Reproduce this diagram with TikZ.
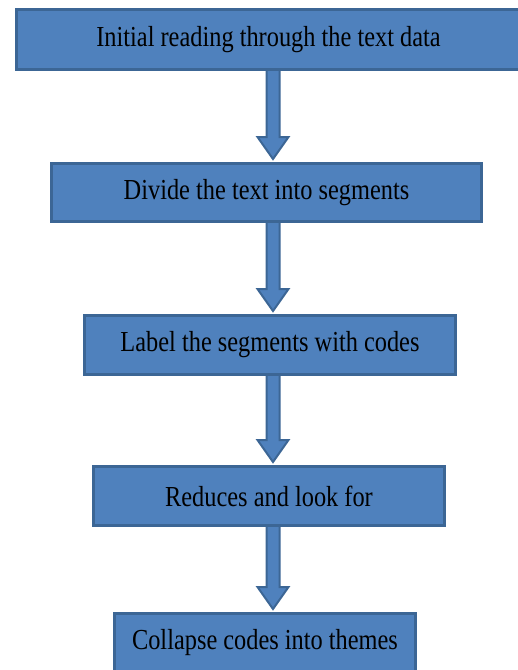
\documentclass[tikz,border=0pt]{standalone}
\usepackage{fontspec}
\setmainfont{Liberation Serif}[FakeStretch=0.84]
\usetikzlibrary{calc}
\definecolor{bleu}{HTML}{4F81BD}
\definecolor{bordure}{HTML}{3C6695}

\begin{document}
\begin{tikzpicture}[x=1pt, y=-1pt,
  etape/.style={draw=bordure, line width=3pt, fill=bleu, text=black, inner sep=0pt, font=\fontsize{29}{30}\selectfont},
  fleche/.style={draw=bordure, line width=2pt, fill=bleu,
    to path={let \p1=(\tikztostart), \p2=(\tikztotarget), \p3=(axe) in
      ({\x3-6.5pt},\y1) -- ({\x3-6.5pt},{\y2+25pt}) -- ({\x3-15.5pt},{\y2+25pt})
      -- (\x3,{\y2+3pt}) -- ({\x3+15.5pt},{\y2+25pt}) -- ({\x3+6.5pt},{\y2+25pt})
      -- ({\x3+6.5pt},\y1)}}]
\useasboundingbox (0,0) rectangle (518,670);
\clip (0,0) rectangle (518,670);
% Etapes
\node[etape, minimum width=504pt, minimum height=60pt] (n1) at (268.5, 39.5) {Initial reading through the text data};
\node[etape, minimum width=430pt, minimum height=58pt] (n2) at (266.5, 192.5) {Divide the text into segments};
\node[etape, minimum width=371pt, minimum height=59pt] (n3) at (270, 345) {Label the segments with codes};
\node[etape, minimum width=351pt, minimum height=59pt] (n4) at (269, 496) {Reduces and look for};
\node[etape, minimum width=301pt, minimum height=59pt] (n5) at (265, 643) {Collapse codes into themes};
\coordinate (axe) at (273, 0);
% Fleches
\draw[fleche] (n1.south) to (n2.north);
\draw[fleche] (n2.south) to (n3.north);
\draw[fleche] (n3.south) to (n4.north);
\draw[fleche] (n4.south) to (n5.north);
\end{tikzpicture}
\end{document}
